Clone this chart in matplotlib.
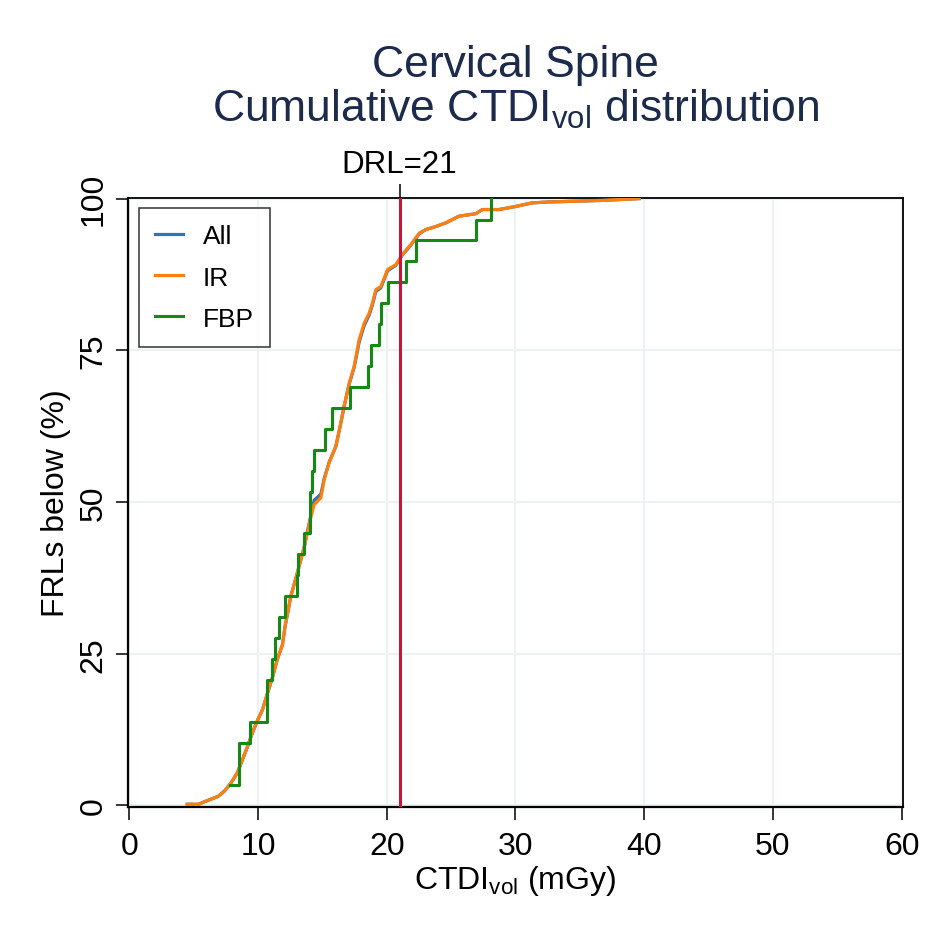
import matplotlib
matplotlib.use("Agg")
import matplotlib.pyplot as plt
import numpy as np

plt.rcParams['font.family'] = ['Liberation Sans', 'DejaVu Sans']
plt.rcParams['mathtext.fontset'] = 'custom'
plt.rcParams['mathtext.rm'] = 'Liberation Sans'
plt.rcParams['mathtext.it'] = 'Liberation Sans:italic'
plt.rcParams['mathtext.bf'] = 'Liberation Sans:bold'

# ---- data ----
ir_x = [4.5, 5.4, 5.7, 6.3, 6.9, 7.4, 7.9, 8.4, 8.8, 9.2, 9.6, 10.0, 10.35, 10.75,
        11.15, 11.5, 11.9, 12.1, 12.55, 13.05, 13.6, 14.0, 14.36, 14.88, 15.14, 15.53,
        16.05, 16.43, 16.69, 17.08, 17.47, 17.86, 18.25, 18.63, 18.89, 19.15, 19.54,
        20.06, 20.7, 21.21, 21.86, 22.52, 23.03, 23.81, 24.59, 25.6, 26.9, 27.43,
        28.73, 30.0, 31.3, 32.6, 36.7, 39.6]
ir_y = [0.2, 0.2, 0.5, 1.0, 1.5, 2.4, 3.7, 5.4, 7.6, 9.8, 12.2, 14.2, 15.8, 18.6,
        21.3, 24.1, 26.5, 29.5, 34.5, 38.3, 42.7, 46.6, 49.6, 50.7, 53.7, 56.5,
        59.2, 63.0, 65.8, 69.6, 72.4, 76.8, 79.5, 81.1, 82.8, 85.0, 85.5,
        88.3, 89.1, 90.8, 92.4, 94.3, 94.9, 95.4, 96.0, 97.1, 97.5, 98.2,
        98.2, 98.7, 99.3, 99.45, 99.7, 100.0]

all_x = [4.5, 5.4, 5.7, 6.3, 6.9, 7.4, 7.9, 8.4, 8.8, 9.2, 9.6, 10.0, 10.35, 10.75,
         11.15, 11.5, 11.9, 12.1, 12.55, 13.05, 13.6, 14.0, 14.36, 14.88, 15.14, 15.53,
         16.05, 16.43, 16.69, 17.08, 17.47, 17.86, 18.25, 18.63, 18.89, 19.15, 19.54,
         20.06, 20.7, 21.21, 21.86, 22.52, 23.03, 23.81, 24.59, 25.6, 26.9, 27.43,
         28.73, 30.0, 31.3, 32.6, 36.7, 39.6]
all_y = [0.2, 0.2, 0.5, 1.0, 1.5, 2.4, 3.7, 5.4, 7.6, 9.8, 12.2, 14.2, 15.8, 18.6,
         21.3, 24.1, 26.5, 29.5, 34.5, 38.3, 42.7, 46.8, 50.3, 51.3, 53.9, 56.6,
         59.2, 63.0, 65.8, 69.4, 72.2, 76.4, 79.1, 80.8, 82.5, 84.7, 85.3,
         88.1, 89.0, 90.7, 92.3, 94.2, 94.9, 95.4, 96.0, 97.1, 97.5, 98.2,
         98.2, 98.7, 99.3, 99.45, 99.7, 100.0]

fbp_x = [7.8, 8.55, 8.55, 9.4, 10.66, 10.66, 11.07, 11.33, 11.65, 12.09, 13.0, 13.14,
         13.6, 14.02, 14.02, 14.2, 14.36, 15.2, 15.74, 17.13, 18.56, 18.81, 19.4,
         19.54, 20.13, 21.53, 22.26, 26.9, 28.13]
fbp_y = [100.0 * (i + 1) / len(fbp_x) for i in range(len(fbp_x))]

drl = 21
xticks = [0, 10, 20, 30, 40, 50, 60]
yticks = [0, 25, 50, 75, 100]

# ---- figure ----
W = H = 937
fig = plt.figure(figsize=(9.37, 9.37), dpi=100)
L, R, T, B = 128, 903, 199, 808
ax = fig.add_axes([L / W, 1 - B / H, (R - L) / W, (B - T) / H])

grid_c = '#eaf2f3'
for xv in xticks:
    ax.axvline(xv, color=grid_c, lw=1.5, zorder=0)
for yv in yticks:
    ax.axhline(yv, color=grid_c, lw=1.5, zorder=0)

ax.plot(all_x, all_y, color='#2f74b5', lw=2.3, label='All', zorder=3)
ax.plot(ir_x, ir_y, color='#ff7f0e', lw=2.3, label='IR', zorder=4)
ax.plot(fbp_x, fbp_y, color='#148a14', lw=2.2, drawstyle='steps-post', label='FBP', zorder=5)
ax.axvline(drl, color='#c8143c', lw=2.2, zorder=6)

ax.set_xlim(-0.1, 60.1)
ax.set_ylim(-0.25, 100.1)
ax.set_xticks(xticks)
ax.set_yticks(yticks)
ax.set_xticklabels([str(v) for v in xticks])
ax.set_yticklabels([str(v) for v in yticks], rotation=90, va='center')
ax.tick_params(axis='both', direction='out', length=9, width=1.1, labelsize=23, colors='black')
ax.tick_params(axis='x', pad=8)
ax.tick_params(axis='y', pad=5)
for s in ax.spines.values():
    s.set_linewidth(1.3)
    s.set_color('black')
ax.spines['left'].set_linewidth(1.6)
ax.spines['bottom'].set_linewidth(1.6)

sec = ax.secondary_xaxis('top')
sec.set_xticks([drl])
sec.set_xticklabels(['DRL=%d' % drl])
sec.tick_params(direction='out', length=10, width=1.1, labelsize=22.5, pad=4)
sec.spines['top'].set_visible(False)

leg = ax.legend(loc='upper left', bbox_to_anchor=((139 - L) / (R - L), (B - 209) / (B - T)),
                borderaxespad=0, fancybox=False, frameon=True, fontsize=19,
                handlelength=1.06, handletextpad=0.73, labelspacing=0.65, borderpad=0.62)
leg.get_frame().set_edgecolor('black')
leg.get_frame().set_linewidth(1.1)

title_c = '#1c2b4b'
fig.text(515.5 / W, 1 - 76.7 / H, 'Cervical Spine', ha='center', va='baseline',
         fontsize=32, color=title_c)
fig.text(515.5 / W, 1 - 121.7 / H, r'Cumulative CTDI$_{\mathrm{vol}}$ distribution',
         ha='center', va='baseline', fontsize=32, color=title_c)

fig.text(515.5 / W, 1 - 889 / H, r'CTDI$_{\mathrm{vol}}$ (mGy)', ha='center', va='baseline',
         fontsize=23, color='black')
fig.text(56 / W, 1 - 503 / H, 'FRLs below (%)', ha='center', va='center', rotation=90,
         fontsize=23, color='black')

fig.savefig('out.png', dpi=100, facecolor='white')
